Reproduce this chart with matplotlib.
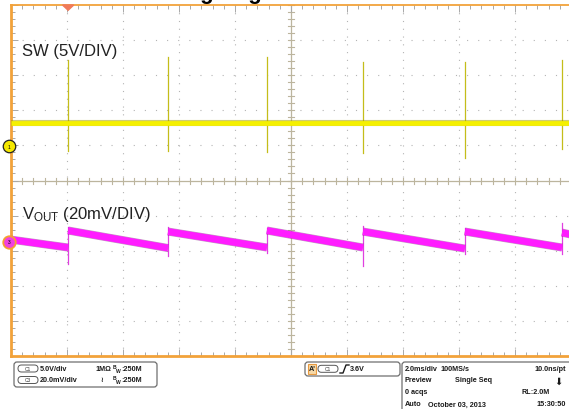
import numpy as np
import matplotlib
matplotlib.use('Agg')
import matplotlib.pyplot as plt
import matplotlib.patheffects as pe
from matplotlib.patches import FancyBboxPatch, Rectangle, Polygon

plt.rcParams['font.family'] = ['Liberation Sans', 'DejaVu Sans']
plt.rcParams['mathtext.fontset'] = 'custom'
plt.rcParams['mathtext.rm'] = 'Liberation Sans'

# scope settings
time_per_div = 2.0        # ms/div
sw_scale = 5.0            # V/div (C1)
vout_scale = 20.0         # mV/div (C3)
sw_pos = 0.97             # div, C1 ground marker
vout_pos = -1.74          # div, C3 offset marker
trig_t = 2.04             # ms

# switching events (ms)
edge_t = [2.04, 5.61, 9.14, 12.57, 16.21, 19.68]

# SW node (V)
sw_level = 3.28
sw_hi = [12.25, 12.8, 12.7, 12.1, 12.1, 12.25]
sw_lo = [-0.7, -0.7, -0.85, -1.0, -1.7, -0.3]

# VOUT ripple (mV, relative to offset)
vout_start = 1.1
vout_end = 4.0
vout_before = [-3.4, -3.7, -3.4, -3.4, -4.0, -3.4]
vout_after = [6.3, 5.7, 6.3, 5.7, 5.7, 5.1]
vout_spike_lo = [-12.5, -8.5, -6.5, -13.7, -6.8, -6.8]
vout_spike_hi = [8.5, 8.5, 8.0, 9.1, 8.0, 10.3]

W, H = 569, 410
fig = plt.figure(figsize=(W / 100, H / 100), dpi=100, facecolor='white')

# ---- scope graticule ----
ax = fig.add_axes([11 / W, 53 / H, 560 / W, 351 / H])
ax.set_xlim(0, 10 * time_per_div)
ax.set_ylim(-5, 5)
orange = '#f2a23a'
for s in ['left', 'bottom']:
    ax.spines[s].set_color(orange)
    ax.spines[s].set_linewidth(2.0)
ax.spines['top'].set_color(orange)
ax.spines['top'].set_linewidth(1.3)
ax.spines['right'].set_visible(False)

ax.set_xticks(np.arange(0, 20.01, 2))
ax.set_xticks(np.arange(0, 20.01, 0.4), minor=True)
ax.set_yticks(np.arange(-5, 5.01, 1))
ax.set_yticks(np.arange(-5, 5.01, 0.2), minor=True)
ax.tick_params(which='both', direction='in', top=True, bottom=True, left=True, right=False,
               labelbottom=False, labelleft=False, color='#a8a8a8', width=0.7)
ax.tick_params(which='major', length=5)
ax.tick_params(which='minor', length=3)

gcol = '#b4b4b4'
for i in range(1, 10):
    if i != 5:
        ax.axvline(i * time_per_div, color=gcol, lw=0.8, ls=(0, (1, 6)), zorder=1)
        ax.axhline(i - 5, color=gcol, lw=0.8, ls=(0, (1, 9)), zorder=1)
ccol = '#bcb59e'
ax.axvline(10, color=ccol, lw=0.9, zorder=1)
ax.axhline(0, color=ccol, lw=0.9, zorder=1)
tx = 3 / 28.0
ty = 3 / 35.1
for v in np.arange(0, 20.01, 0.4):
    ax.plot([v, v], [-ty, ty], color=ccol, lw=0.8, zorder=1)
for v in np.arange(-5, 5.01, 0.2):
    ax.plot([10 - tx, 10 + tx], [v, v], color=ccol, lw=0.8, zorder=1)

# ---- SW trace ----
sw_y = sw_pos + sw_level / sw_scale
for t, hi, lo in zip(edge_t, sw_hi, sw_lo):
    ax.plot([t, t], [sw_pos + lo / sw_scale, sw_pos + hi / sw_scale],
            color='#c4bd1a', lw=0.9, zorder=3)
ax.plot([0, 20], [sw_y, sw_y], color='#f5f000', lw=3.4, solid_capstyle='butt', zorder=4,
        path_effects=[pe.Stroke(linewidth=4.4, foreground='#a8a200', alpha=0.55), pe.Normal()])

# ---- VOUT trace ----
seg_t0 = [0] + edge_t
seg_t1 = edge_t + [20]
seg_v0 = [vout_start] + vout_after
seg_v1 = vout_before + [vout_end]
for t0, t1, v0, v1 in zip(seg_t0, seg_t1, seg_v0, seg_v1):
    ax.plot([t0, t1], [vout_pos + v0 / vout_scale, vout_pos + v1 / vout_scale],
            color='#ff1cff', lw=5.0, solid_capstyle='butt', zorder=4,
            path_effects=[pe.Stroke(linewidth=5.8, foreground='#7a1a7a', alpha=0.45), pe.Normal()])
for t, hi, lo in zip(edge_t, vout_spike_hi, vout_spike_lo):
    ax.plot([t, t], [vout_pos + lo / vout_scale, vout_pos + hi / vout_scale],
            color='#e040e0', lw=0.9, zorder=3)

# channel labels
ax.text(0.4, 3.7, 'SW (5V/DIV)', fontsize=12, color='#222222', va='center', zorder=5)
ax.text(0.4, -0.95, r'V$\mathregular{_{OUT}}$ (20mV/DIV)', fontsize=12,
        color='#222222', va='center', zorder=5)

# channel markers / trigger marker
ax.plot([0.05], [sw_pos], marker='>', ms=5, color='#f0e000', clip_on=False, zorder=6)
ax.plot([-0.07], [sw_pos], marker='o', ms=9, mfc='#f5e800', mec='#222222', mew=0.9,
        clip_on=False, zorder=7)
ax.text(-0.07, sw_pos, '1', fontsize=3.5, ha='center', va='center', zorder=8, clip_on=False)
ax.plot([0.05], [vout_pos], marker='>', ms=5, color='#ff40ff', clip_on=False, zorder=6)
ax.plot([-0.07], [vout_pos], marker='o', ms=9, mfc='#f040e0', mec='#f5a030', mew=1.3,
        clip_on=False, zorder=7)
ax.text(-0.07, vout_pos, '3', fontsize=3.5, ha='center', va='center', zorder=8, clip_on=False)
ax.add_patch(Polygon([[trig_t - 0.2, 5.0], [trig_t + 0.2, 5.0], [trig_t, 4.85]],
                     closed=True, color='#f07a5a', clip_on=False, zorder=6))

# clipped title at the very top
fig.text(0.5, 1.0 + 1.0 / H, 'Switching Regulation Waveforms', fontsize=16, fontweight='bold',
         ha='center', va='baseline', color='black')

# ---- info panel (pixel coordinates) ----
ov = fig.add_axes([0, 0, 1, 1])
ov.set_xlim(0, W)
ov.set_ylim(H, 0)
ov.axis('off')
ov.patch.set_alpha(0)

def box(x0, y0, x1, y1, r=3):
    ov.add_patch(FancyBboxPatch((x0, y0), x1 - x0, y1 - y0,
                                boxstyle='round,pad=0,rounding_size=%g' % r,
                                facecolor='white', edgecolor='#6e6e6e', lw=0.9))

def chip(x0, yc, label):
    ov.add_patch(FancyBboxPatch((x0, yc - 3.5), 20, 7, boxstyle='round,pad=0,rounding_size=3.5',
                                facecolor='white', edgecolor='#555555', lw=0.7))
    ov.text(x0 + 10, yc, label, fontsize=3.5, ha='center', va='center', color='#333333')

def lbl(x, y, s, ha='left'):
    ov.text(x, y, s, fontsize=5.2, fontweight='bold', ha=ha, va='center', color='#1a1a1a')

def bw(x, y):
    ov.text(x, y - 2.2, 'B', fontsize=3.6, fontweight='bold', ha='left', va='center', color='#1a1a1a')
    ov.text(x + 2.6, y + 1.6, 'W', fontsize=3.6, fontweight='bold', ha='left', va='center', color='#1a1a1a')
    lbl(x + 8, y, ':250M')

box(14, 363, 157, 388)
chip(18, 369.5, 'C1')
lbl(40, 369.5, '5.0V/div')
lbl(95, 369.5, '1M\u03a9')
bw(113, 369.5)
chip(18, 381, 'C3')
lbl(40, 381, '20.0mV/div')
lbl(100, 381, '\u2240')
bw(113, 381)

box(305, 363, 400, 377)
ov.add_patch(Rectangle((308, 365), 8, 9.5, facecolor='#f6d9a8', edgecolor='#e89a40', lw=0.8))
lbl(312, 369.8, "A'", ha='center')
chip(318, 369.8, 'C1')
ov.plot([340, 343, 346, 349], [374, 374, 366, 366], color='#1a1a1a', lw=1.0)
lbl(350, 369.8, '3.6V')

box(402, 363, 575, 415)
lbl(405, 369.5, '2.0ms/div')
lbl(440, 369.5, '100MS/s')
lbl(566, 369.5, '10.0ns/pt', ha='right')
lbl(405, 381, 'Preview')
lbl(455, 381, 'Single Seq')
ov.text(558, 382, '\u2b07', fontsize=7, ha='center', va='center', color='#1a1a1a',
        family=['DejaVu Sans'])
lbl(405, 393, '0 acqs')
lbl(550, 393, 'RL:2.0M', ha='right')
lbl(405, 405, 'Auto')
lbl(428, 405, 'October 03, 2013')
lbl(566, 405, '15:30:50', ha='right')

fig.savefig('out.png', dpi=100, facecolor='white')
